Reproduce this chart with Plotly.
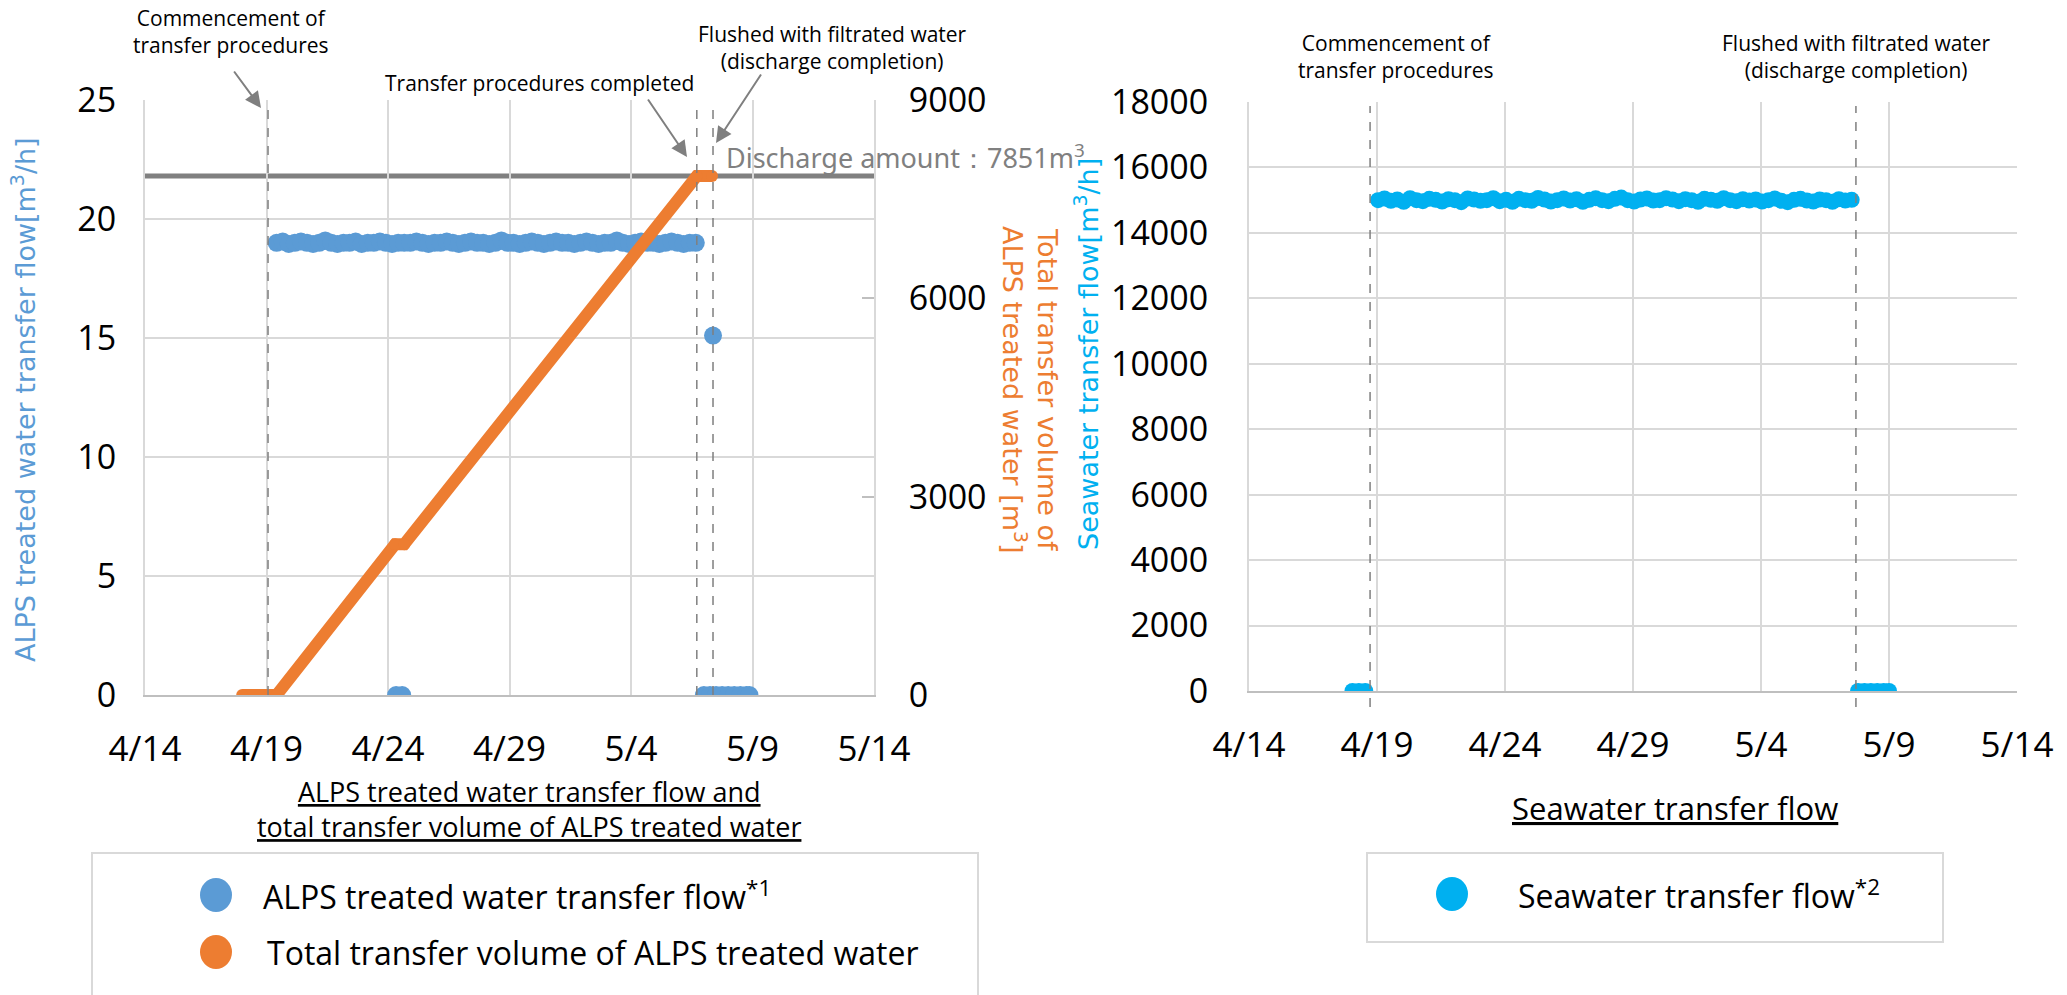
import plotly.graph_objects as go
import pandas as pd

W, H = 2067, 995


def px(x):
    return x / W


def py(y):
    return 1 - y / H


# ---------------- data ----------------
tick_dates = ["2024-04-14", "2024-04-19", "2024-04-24", "2024-04-29",
              "2024-05-04", "2024-05-09", "2024-05-14"]
tick_labels = ["4/14", "4/19", "4/24", "4/29", "5/4", "5/9", "5/14"]

# ALPS treated water transfer flow [m3/h], sampled every 6 h from start
alps_flow_start = "2024-04-19 10:00"
alps_flow_values = [
    19.0, 19.05, 18.95, 19.0, 19.05, 19.0, 18.95, 19.0, 19.1, 19.0,
    18.95, 19.0, 19.0, 19.05, 18.95, 19.0, 19.0, 19.05, 19.0, 18.95,
    19.0, 19.0, 19.0, 19.05, 19.0, 18.95, 19.0, 19.0, 19.05, 19.0,
    18.95, 19.0, 19.05, 19.0, 19.0, 18.95, 19.0, 19.1, 19.0, 19.0,
    18.95, 19.0, 19.05, 19.0, 18.95, 19.0, 19.05, 19.0, 19.0, 18.95,
    19.0, 19.05, 19.0, 18.95, 19.0, 19.0, 19.1, 19.0, 18.95, 19.0,
    19.05, 19.0, 19.0, 18.95, 19.0, 19.05, 19.0, 18.95, 19.0, 19.0,
]
alps_flow_other_times = ["2024-04-24 08:00", "2024-04-24 14:00",
                         "2024-05-07 00:00", "2024-05-07 06:00", "2024-05-07 09:00",
                         "2024-05-07 12:00", "2024-05-07 18:00", "2024-05-08 00:00",
                         "2024-05-08 06:00", "2024-05-08 12:00", "2024-05-08 18:00",
                         "2024-05-08 21:00"]
alps_flow_other_values = [0.0, 0.0, 0.0, 0.0, 15.1, 0.0, 0.0, 0.0, 0.0, 0.0, 0.0, 0.0]

# Total transfer volume of ALPS treated water [m3]
total_volume_times = ["2024-04-18 00:00", "2024-04-19 10:00", "2024-04-24 07:00",
                      "2024-04-24 16:00", "2024-05-06 17:00", "2024-05-07 08:00"]
total_volume_values = [0, 0, 2280, 2280, 7851, 7851]
discharge_amount = 7851

# Seawater transfer flow [m3/h], sampled every 6 h from start
seawater_start = "2024-04-19 01:00"
seawater_values = [
    15000, 15050, 14980, 15020, 14950, 15060, 15000, 14970, 15040, 15010,
    14960, 15030, 15000, 14940, 15050, 15020, 14980, 15000, 15060, 14970,
    15010, 14950, 15040, 15000, 14980, 15070, 15020, 14960, 15000, 15050,
    14990, 15030, 14950, 15010, 15060, 15000, 14970, 15040, 15080, 15000,
    14960, 15020, 15050, 14990, 15000, 15060, 15020, 14970, 15030, 15000,
    14950, 15040, 15010, 14980, 15060, 15000, 14970, 15030, 14990, 15020,
    14960, 15000, 15050, 14980, 14940, 15010, 15040, 14990, 14960, 15020,
    15000, 14950, 15030, 14990, 15010,
]
seawater_zero_times = ["2024-04-18 01:00", "2024-04-18 07:00", "2024-04-18 13:00",
                       "2024-05-07 19:00", "2024-05-08 01:00", "2024-05-08 07:00",
                       "2024-05-08 13:00", "2024-05-08 19:00", "2024-05-09 00:00"]
seawater_zero_values = [0, 0, 0, 0, 0, 0, 0, 0, 0]

left_event_times = ["2024-04-19 01:30", "2024-05-06 17:00", "2024-05-07 09:00"]
right_event_times = ["2024-04-18 17:30", "2024-05-07 17:00"]

# ---------------- colours / fonts ----------------
BLUE = "#5b9bd5"
ORANGE = "#ed7d31"
CYAN = "#00b0f0"
GRAY = "#7f7f7f"
GRID = "#d9d9d9"
FONT = "Open Sans"
TITLE_FONT = "DejaVu Sans"

alps_times = list(pd.date_range(alps_flow_start, periods=len(alps_flow_values), freq="6h"))
sea_times = list(pd.date_range(seawater_start, periods=len(seawater_values), freq="6h"))

fig = go.Figure()

fig.add_trace(go.Scatter(
    x=alps_times + [pd.Timestamp(t) for t in alps_flow_other_times],
    y=alps_flow_values + alps_flow_other_values,
    mode="markers", marker=dict(color=BLUE, size=18),
    name="ALPS treated water transfer flow", xaxis="x", yaxis="y", showlegend=False,
))
fig.add_trace(go.Scatter(
    x=total_volume_times, y=total_volume_values,
    mode="lines+markers", line=dict(color=ORANGE, width=12),
    marker=dict(color=ORANGE, size=12),
    name="Total transfer volume of ALPS treated water", xaxis="x", yaxis="y2",
    showlegend=False,
))
fig.add_trace(go.Scatter(
    x=sea_times + [pd.Timestamp(t) for t in seawater_zero_times],
    y=seawater_values + seawater_zero_values,
    mode="markers", marker=dict(color=CYAN, size=16),
    name="Seawater transfer flow", xaxis="x3", yaxis="y3", showlegend=False,
))

# ---------------- axes ----------------
L_X0, L_X1, L_Y0, L_Y1 = 145, 874, 100, 695
R_X0, R_X1, R_Y0, R_Y1 = 1249, 2017, 102, 691

xcommon = dict(type="date", range=[tick_dates[0], tick_dates[-1]],
               tickvals=tick_dates, ticktext=tick_labels,
               showgrid=True, gridcolor=GRID, gridwidth=2,
               showline=True, linecolor="#bfbfbf", linewidth=2,
               zeroline=False, ticks="", tickfont=dict(size=35, family=FONT, color="black"),
               ticklabelstandoff=22, automargin=False)

fig.update_layout(
    width=W, height=H,
    margin=dict(l=0, r=0, t=0, b=0),
    paper_bgcolor="white", plot_bgcolor="white",
    font=dict(family=FONT, color="black"),
    showlegend=False,
    xaxis=dict(domain=[px(L_X0), px(L_X1)], anchor="y", **xcommon),
    yaxis=dict(domain=[py(L_Y1), py(L_Y0)], anchor="x", range=[0, 25],
               tickvals=[0, 5, 10, 15, 20, 25], showgrid=True, gridcolor=GRID, gridwidth=2,
               zeroline=False, showline=True, linecolor=GRID, linewidth=2,
               tickfont=dict(size=34, family=FONT, color="black"),
               ticklabelstandoff=20, automargin=False),
    yaxis2=dict(overlaying="y", side="right", anchor="x", range=[0, 9000],
                tickvals=[0, 3000, 6000, 9000], showgrid=False, zeroline=False,
                showline=True, linecolor=GRID, linewidth=2,
                ticks="inside", ticklen=12, tickcolor="#bfbfbf", tickwidth=2,
                tickfont=dict(size=34, family=FONT, color="black"),
                ticklabelstandoff=26, automargin=False),
    xaxis3=dict(domain=[px(R_X0), px(R_X1)], anchor="y3", **xcommon),
    yaxis3=dict(domain=[py(R_Y1), py(R_Y0)], anchor="x3", range=[0, 18000],
                tickvals=list(range(0, 18001, 2000)), tickformat="d",
                showgrid=True, gridcolor=GRID,
                gridwidth=2, zeroline=False, showline=True, linecolor=GRID, linewidth=2,
                tickfont=dict(size=34, family=FONT, color="black"),
                ticklabelstandoff=32, automargin=False),
)

shapes = []
# discharge amount line
shapes.append(dict(type="line", xref="x domain", yref="y2", x0=0, x1=1,
                   y0=discharge_amount, y1=discharge_amount,
                   line=dict(color="#808080", width=5), layer="below"))
for t in left_event_times:
    shapes.append(dict(type="line", xref="x", yref="paper", x0=t, x1=t,
                       y0=py(695), y1=py(104), line=dict(color=GRAY, width=1.5, dash="dash")))
for t in right_event_times:
    shapes.append(dict(type="line", xref="x3", yref="paper", x0=t, x1=t,
                       y0=py(707), y1=py(106), line=dict(color=GRAY, width=1.5, dash="dash")))

# legend boxes
shapes.append(dict(type="rect", xref="paper", yref="paper", x0=px(92), x1=px(978),
                   y0=py(1010), y1=py(853), line=dict(color=GRID, width=2)))
shapes.append(dict(type="rect", xref="paper", yref="paper", x0=px(1367), x1=px(1943),
                   y0=py(942), y1=py(853), line=dict(color=GRID, width=2)))
for (cx, cy, col) in [(216, 895, BLUE), (216, 952, ORANGE), (1452, 894, CYAN)]:
    shapes.append(dict(type="circle", xref="paper", yref="paper",
                       x0=px(cx - 16), x1=px(cx + 16), y0=py(cy + 17), y1=py(cy - 17),
                       fillcolor=col, line=dict(width=0)))
fig.update_layout(shapes=shapes)

ann = []


def text(x, y, s, size, color="black", xanchor="center", family=FONT, angle=0):
    ann.append(dict(x=px(x), y=py(y), xref="paper", yref="paper", text=s,
                    showarrow=False, xanchor=xanchor, yanchor="middle",
                    textangle=angle, font=dict(size=size, color=color, family=family)))


def arrow(x0, y0, x1, y1):
    ann.append(dict(x=px(x1), y=py(y1), xref="paper", yref="paper", text="",
                    showarrow=True, axref="pixel", ayref="pixel",
                    ax=x0 - x1, ay=y0 - y1, arrowhead=2, arrowsize=1.6,
                    arrowwidth=2, arrowcolor=GRAY, standoff=0, startstandoff=0))


# axis titles
text(24, 400, "ALPS treated water transfer flow[m<sup>3</sup>/h]", 27, BLUE,
     family=TITLE_FONT, angle=-90)
text(1030, 390, "Total transfer volume of<br>ALPS treated water [m<sup>3</sup>]", 27, ORANGE,
     family=TITLE_FONT, angle=90)
text(1086, 354, "Seawater transfer flow[m<sup>3</sup>/h]", 27, CYAN,
     family=TITLE_FONT, angle=-90)

# chart titles
text(529, 809, "<u>ALPS treated water transfer flow and</u><br><u>total transfer volume of ALPS treated water</u>", 27)
text(1675, 808, "<u>Seawater transfer flow</u>", 31)

# event labels
text(231, 31, "Commencement of<br>transfer procedures", 21)
text(832, 47, "Flushed with filtrated water<br>(discharge completion)", 21)
text(539, 83, "Transfer procedures completed", 21)
text(1396, 57, "Commencement of<br>transfer procedures", 21)
text(1856, 57, "Flushed with filtrated water<br>(discharge completion)", 21)
text(724, 156, "Discharge amount\uff1a" + str(discharge_amount) + "m<sup>3</sup>", 27, "#808080",
     xanchor="left", family="Noto Sans")

arrow(233, 70, 261, 108)
arrow(647, 98, 687, 157)
arrow(762, 73, 716, 143)

# legend texts
text(261, 895, "ALPS treated water transfer flow<sup>*1</sup>", 32, xanchor="left")
text(265, 952, "Total transfer volume of ALPS treated water", 32, xanchor="left")
text(1516, 894, "Seawater transfer flow<sup>*2</sup>", 32, xanchor="left")

fig.update_layout(annotations=ann)

fig.write_html("out.html", config={"displayModeBar": False},
               post_script="document.body.style.margin='0';")
